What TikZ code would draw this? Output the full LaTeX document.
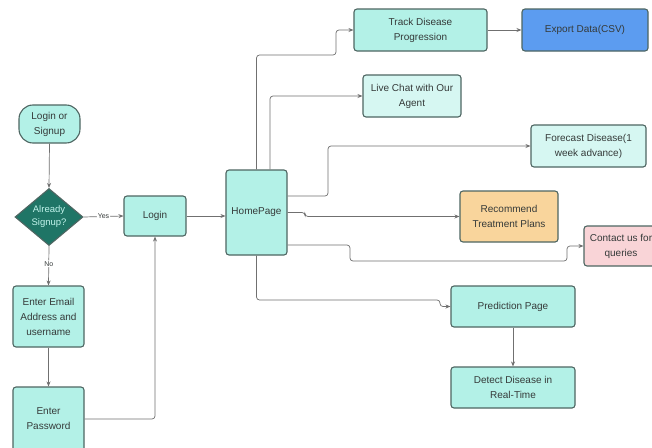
\documentclass[tikz,border=0pt]{standalone}
\usepackage{fontspec}
\setmainfont{Liberation Sans}
\usetikzlibrary{shapes.geometric,arrows.meta}
\definecolor{tealfill}{HTML}{B3F1E7}
\definecolor{lightfill}{HTML}{D6F7F2}
\definecolor{darkteal}{HTML}{1F7566}
\definecolor{bordergray}{HTML}{4E6662}
\definecolor{exportfill}{HTML}{5C9CF0}
\definecolor{recfill}{HTML}{F9D59C}
\definecolor{contactfill}{HTML}{F9D4D7}
\definecolor{txt}{HTML}{353A39}
\definecolor{linegray}{HTML}{707070}
\tikzset{
  box/.style={draw=bordergray, line width=1.1pt, rounded corners=3pt, fill=tealfill,
    text=txt, align=center, font=\fontsize{10}{15}\selectfont, inner sep=2pt},
  lightbox/.style={box, fill=lightfill},
  arr/.style={draw=linegray, line width=0.7pt, -{Stealth[length=5pt,width=4pt]}, rounded corners=3pt},
  lbl/.style={fill=white, inner sep=1pt, text=txt, font=\fontsize{7}{8}\selectfont}
}
\begin{document}
\begin{tikzpicture}[x=1pt,y=-1pt]
\useasboundingbox (0,0) rectangle (652,447);
\fill[white] (0,0) rectangle (652,447);
\clip (0,0) rectangle (652,447);

% left column
\node[box, rounded corners=14pt, minimum width=61pt, minimum height=38pt] (start) at (49.5,124) {Login or\\Signup};
\node[diamond, draw=bordergray, line width=1.1pt, fill=darkteal, minimum width=68pt, minimum height=57pt, inner sep=0pt] (dec) at (49,217) {};
\node[text=tealfill!80!white, align=center, font=\fontsize{9.5}{13}\selectfont] (dectext) at (dec) {Already\\Signup?};
\node[box, minimum width=62pt, minimum height=40pt] (login) at (155,216) {Login};
\node[box, minimum width=71pt, minimum height=61pt] (email) at (48.5,316.5) {Enter Email\\Address and\\username};
\node[box, minimum width=71pt, minimum height=64pt] (pass) at (48.5,419) {Enter\\Password};

% home
\node[box, minimum width=61pt, minimum height=85pt] (home) at (256.5,212.5) {HomePage};

% right side
\node[box, minimum width=133pt, minimum height=42pt] (track) at (420.5,30) {Track Disease\\Progression};
\node[box, fill=exportfill, draw=bordergray, minimum width=126pt, minimum height=42pt] (export) at (585,30) {Export Data(CSV)};
\node[lightbox, minimum width=98pt, minimum height=42pt] (chat) at (412,96) {Live Chat with Our\\Agent};
\node[lightbox, minimum width=115pt, minimum height=42pt] (forecast) at (588.5,146) {Forecast Disease(1\\week advance)};
\node[box, fill=recfill, minimum width=98pt, minimum height=51pt] (rec) at (509,216.5) {Recommend\\Treatment Plans};
\node[box, fill=contactfill, minimum width=74pt, minimum height=40pt] (contact) at (621,246) {Contact us for\\queries};
\node[box, minimum width=124pt, minimum height=41pt] (pred) at (513,306.5) {Prediction Page};
\node[box, minimum width=124pt, minimum height=41pt] (detect) at (513,387.5) {Detect Disease in\\Real-Time};

% connectors
\draw[arr] (start.south) -- (dec.north);
\draw[arr] (dec.east) -- node[lbl] {Yes} (login.west);
\draw[arr] (dec.south) -- node[lbl, pos=0.45] {No} (email.north);
\draw[arr] (email.south) -- (pass.north);
\draw[arr] (pass.east) -| (login.south);
\draw[arr] (login.east) -- (login.east -| home.west);

\draw[arr] (home.north) |- (336,55) |- (track.west);
\draw[arr] ([xshift=13.5pt]home.north) |- (chat.west);
\draw[arr] ([yshift=16.5pt]home.east) -- (328,196) |- (forecast.west);
\draw[arr] (home.east) -- (305,212.5) |- (rec.west);
\draw[arr] ([yshift=-32.5pt]home.east) -- (350,245) |- (567,261) |- (contact.west);
\draw[arr] (home.south) |- (440,300) |- (pred.west);
\draw[arr] (track.east) -- (export.west);
\draw[arr] (pred.south) -- (detect.north);
\end{tikzpicture}
\end{document}
